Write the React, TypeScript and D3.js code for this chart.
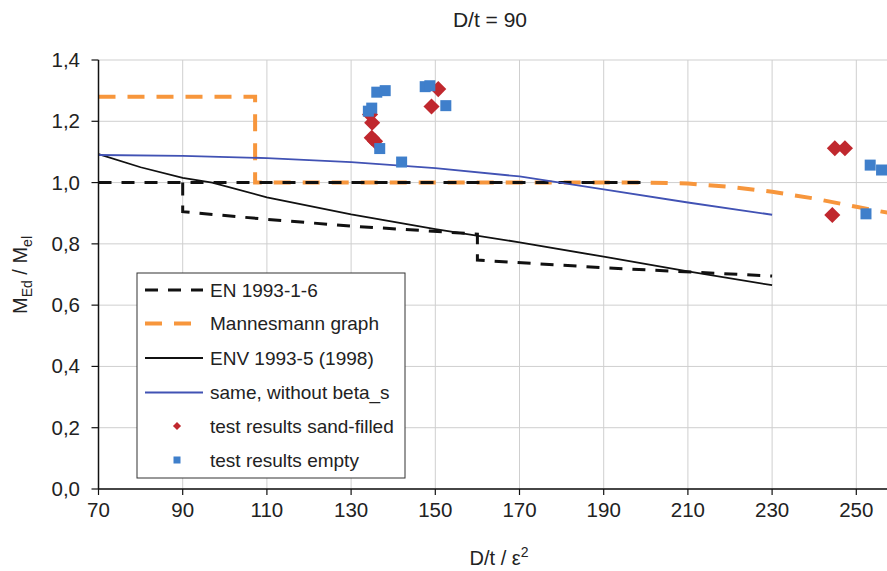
import React from "react";
import * as d3 from "d3";

const xTicks = [70, 90, 110, 130, 150, 170, 190, 210, 230, 250];
const yTicks = [0, 0.2, 0.4, 0.6, 0.8, 1.0, 1.2, 1.4];

const enUpperX = [70, 200];
const enUpperY = [1.0, 1.0];
const enStepX = [90, 90, 110, 130, 160, 160, 190, 230];
const enStepY = [1.0, 0.905, 0.88, 0.858, 0.832, 0.747, 0.722, 0.695];

const mannX = [70, 107.2, 107.2, 200, 210, 220, 230, 240, 250, 260];
const mannY = [1.28, 1.28, 1.0, 1.0, 0.997, 0.986, 0.97, 0.948, 0.921, 0.895];

const envX = [70, 80, 90, 97, 110, 130, 150, 170, 190, 210, 230];
const envY = [1.093, 1.05, 1.015, 1.0, 0.952, 0.896, 0.848, 0.805, 0.758, 0.71, 0.665];

const noBetaX = [70, 90, 110, 130, 150, 170, 190, 210, 230];
const noBetaY = [1.09, 1.087, 1.08, 1.067, 1.047, 1.02, 0.978, 0.935, 0.895];

const sandX = [134.5, 135, 134.9, 135.7, 150.7, 149.1, 244.9, 247.3, 244.3];
const sandY = [1.222, 1.195, 1.146, 1.135, 1.305, 1.248, 1.112, 1.112, 0.894];

const emptyX = [136.1, 138.1, 134.1, 134.9, 136.8, 142, 147.6, 148.7, 152.5, 253.3, 256, 252.3];
const emptyY = [1.295, 1.3, 1.233, 1.243, 1.111, 1.067, 1.313, 1.316, 1.251, 1.057, 1.041, 0.898];

const legendLabels = [
  "EN 1993-1-6",
  "Mannesmann graph",
  "ENV 1993-5 (1998)",
  "same, without beta_s",
  "test results sand-filled",
  "test results empty",
];

const W = 887;
const H = 571;
const left = 98.5;
const top = 60;
const bottom = 489;
const FONT = "'Liberation Sans', Arial, sans-serif";

const ORANGE = "#F7963C";
const BLUE_LINE = "#4152B4";
const RED = "#C0282E";
const BLUE_SQ = "#3F7FCB";

export default function App() {
  const x = d3.scaleLinear().domain([70, 270]).range([left, left + 200 * 4.21]);
  const y = d3.scaleLinear().domain([0, 1.4]).range([bottom, top]);
  const line = d3
    .line<[number, number]>()
    .x((d) => x(d[0]))
    .y((d) => y(d[1]));
  const zip = (a: number[], b: number[]) => a.map((v, i) => [v, b[i]] as [number, number]);

  const diamond = d3.symbol().type(d3.symbolDiamond2).size(165)();
  const legendDiamond = d3.symbol().type(d3.symbolDiamond2).size(42)();

  const legendRowsY = [290, 323.5, 358, 392.5, 426, 460];
  const sq = 11;

  return (
    <svg
      width={W}
      height={H}
      style={{ position: "absolute", left: 0, top: 0, background: "#fff" }}
      fontFamily={FONT}
    >
      <defs>
        <clipPath id="plotclip">
          <rect x={left} y={top - 20} width={W - left} height={bottom - top + 20} />
        </clipPath>
      </defs>
      <rect x={0} y={0} width={W} height={H} fill="#fff" />
      <text x={490} y={27} textAnchor="middle" fontSize={21} fill="#222">
        D/t = 90
      </text>

      {/* gridlines */}
      {yTicks.map((t) => (
        <line key={"gy" + t} x1={left} x2={W} y1={y(t)} y2={y(t)} stroke="#cfcfcf" strokeWidth={1} />
      ))}
      {xTicks.map((t) => (
        <line key={"gx" + t} x1={x(t)} x2={x(t)} y1={top} y2={bottom} stroke="#cfcfcf" strokeWidth={1} />
      ))}

      <g clipPath="url(#plotclip)">
        <path d={line(zip(mannX, mannY)) || ""} fill="none" stroke={ORANGE} strokeWidth={4} strokeDasharray="17 12" />
        <path d={line(zip(enUpperX, enUpperY)) || ""} fill="none" stroke="#111" strokeWidth={3} strokeDasharray="13 10" />
        <path d={line(zip(enStepX, enStepY)) || ""} fill="none" stroke="#111" strokeWidth={3} strokeDasharray="13 10" />
        <path d={line(zip(envX, envY)) || ""} fill="none" stroke="#111" strokeWidth={1.8} />
        <path d={line(zip(noBetaX, noBetaY)) || ""} fill="none" stroke={BLUE_LINE} strokeWidth={1.8} />
        {sandX.map((v, i) => (
          <path key={"s" + i} d={diamond || ""} transform={`translate(${x(v)},${y(sandY[i])})`} fill={RED} />
        ))}
        {emptyX.map((v, i) => (
          <rect key={"e" + i} x={x(v) - sq / 2} y={y(emptyY[i]) - sq / 2} width={sq} height={sq} fill={BLUE_SQ} />
        ))}
      </g>

      {/* axes */}
      <line x1={left} x2={left} y1={top} y2={bottom} stroke="#111" strokeWidth={1.5} />
      <line x1={left} x2={W} y1={bottom} y2={bottom} stroke="#111" strokeWidth={1.5} />
      {yTicks.map((t) => (
        <g key={"ty" + t}>
          <line x1={left - 7} x2={left} y1={y(t)} y2={y(t)} stroke="#111" strokeWidth={1.2} />
          <text x={80} y={y(t) + 7} textAnchor="end" fontSize={20.5} fill="#222">
            {t.toFixed(1).replace(".", ",")}
          </text>
        </g>
      ))}
      {xTicks.map((t) => (
        <g key={"tx" + t}>
          <line x1={x(t)} x2={x(t)} y1={bottom} y2={bottom + 6} stroke="#111" strokeWidth={1.2} />
          <text x={x(t)} y={bottom + 28} textAnchor="middle" fontSize={20.5} fill="#222">
            {t}
          </text>
        </g>
      ))}

      <text x={499} y={565} textAnchor="middle" fontSize={20} fill="#222">
        D/t / ε<tspan dy={-8} fontSize={14}>2</tspan>
      </text>
      <text transform="translate(27,275) rotate(-90)" textAnchor="middle" fontSize={20} fill="#222">
        M<tspan dy={5} fontSize={14}>Ed</tspan>
        <tspan dy={-5}> / M</tspan>
        <tspan dy={5} fontSize={14}>el</tspan>
      </text>

      {/* legend */}
      <rect x={137} y={273} width={268} height={205} fill="#fff" stroke="#333" strokeWidth={1} />
      <line x1={145} x2={203} y1={legendRowsY[0]} y2={legendRowsY[0]} stroke="#111" strokeWidth={3} strokeDasharray="13 10" />
      <line x1={145} x2={203} y1={legendRowsY[1]} y2={legendRowsY[1]} stroke={ORANGE} strokeWidth={4} strokeDasharray="17 12" />
      <line x1={145} x2={203} y1={legendRowsY[2]} y2={legendRowsY[2]} stroke="#111" strokeWidth={1.8} />
      <line x1={145} x2={203} y1={legendRowsY[3]} y2={legendRowsY[3]} stroke={BLUE_LINE} strokeWidth={1.8} />
      <path d={legendDiamond || ""} transform={`translate(177,${legendRowsY[4]})`} fill={RED} />
      <rect x={173.5} y={legendRowsY[5] - 3.5} width={7} height={7} fill={BLUE_SQ} />
      {legendLabels.map((l, i) => (
        <text key={l} x={210} y={legendRowsY[i] + 6.5} fontSize={19} fill="#222">
          {l}
        </text>
      ))}
    </svg>
  );
}
